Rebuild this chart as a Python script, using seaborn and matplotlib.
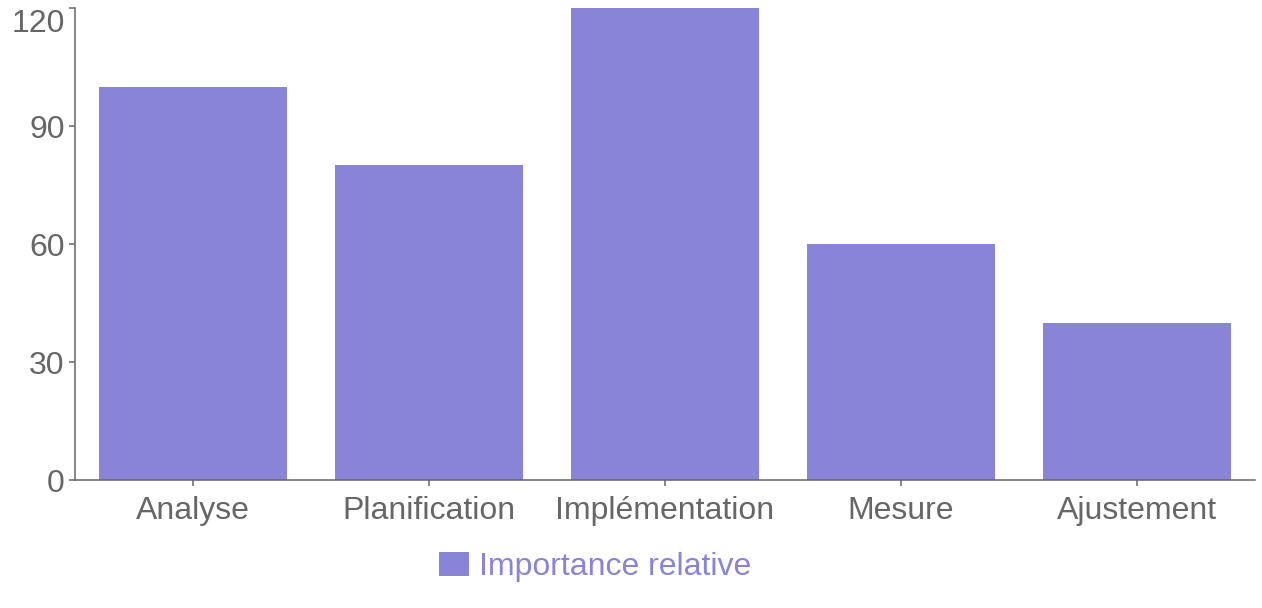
import matplotlib
matplotlib.use("Agg")
import matplotlib.pyplot as plt
import seaborn as sns
import pandas as pd
from matplotlib.patches import Patch
from matplotlib.transforms import ScaledTranslation

categories = ["Analyse", "Planification", "Implémentation", "Mesure", "Ajustement"]
values = [100, 80, 120, 60, 40]
series_name = "Importance relative"
y_ticks = [0, 30, 60, 90, 120]

BAR = "#8884d8"
GREY = "#666666"

sns.set_theme(style="white")
plt.rcParams["font.family"] = ["Liberation Sans", "DejaVu Sans"]

W, H = 1262, 608
fig = plt.figure(figsize=(W / 100, H / 100), dpi=100)
ax = fig.add_axes([75 / W, (H - 480) / H, (1255 - 75) / W, (480 - 8) / H])

df = pd.DataFrame({"cat": categories, "val": values})
sns.barplot(data=df, x="cat", y="val", color=BAR, saturation=1, width=0.8,
            linewidth=0, ax=ax)

ax.set_ylim(0, 120)
ax.set_xlim(-0.5, len(categories) - 0.5)
ax.set_yticks(y_ticks)
ax.set_xlabel("")
ax.set_ylabel("")
for s in ["top", "right"]:
    ax.spines[s].set_visible(False)
for s in ["left", "bottom"]:
    ax.spines[s].set_color(GREY)
    ax.spines[s].set_linewidth(1.1)
ax.tick_params(axis="both", colors=GREY, labelcolor=GREY, labelsize=23,
               length=4.5, width=1.1, direction="out")
ax.tick_params(axis="x", pad=7)
ax.tick_params(axis="y", pad=3)
ax.tick_params(left=True, bottom=True)

# keep the top label inside the figure, as in the reference
fig.canvas.draw()
top_lbl = ax.get_yticklabels()[-1]
top_lbl.set_transform(top_lbl.get_transform() + ScaledTranslation(0, -12 / 100, fig.dpi_scale_trans))

leg = fig.legend(handles=[Patch(facecolor=BAR, edgecolor="none", label=series_name)],
                 loc="center", bbox_to_anchor=(595 / W, 1 - 567 / H), frameon=False,
                 fontsize=23, handlelength=0.95, handleheight=0.75, handletextpad=0.3)
for t in leg.get_texts():
    t.set_color(BAR)

fig.savefig("out.png", dpi=100)
